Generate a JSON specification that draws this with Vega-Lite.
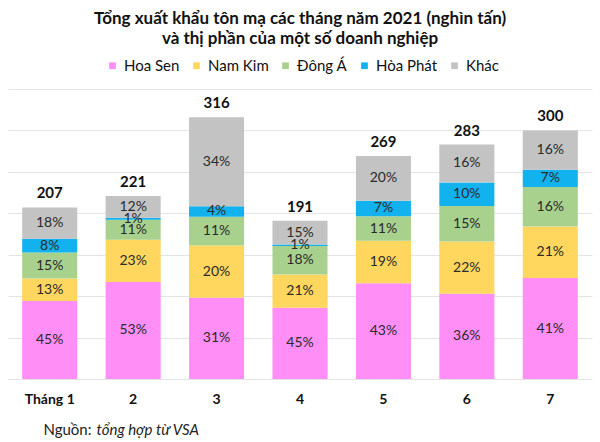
{
  "$schema": "https://vega.github.io/schema/vega-lite/v6.json",
  "autosize": "none",
  "width": 584,
  "height": 290,
  "padding": {"left": 8, "top": 89, "right": 8, "bottom": 63},
  "background": "white",
  "config": {
    "font": "Lato",
    "view": {"stroke": null}
  },
  "title": {
    "text": ["Tổng xuất khẩu tôn mạ các tháng năm 2021 (nghìn tấn)", "và thị phần của một số doanh nghiệp"],
    "fontSize": 17,
    "fontWeight": "bold",
    "color": "#111111",
    "anchor": "middle",
    "offset": 10,
    "lineHeight": 20
  },
  "data": {
    "values": [
      {"month": "Tháng 1", "series": "Hoa Sen", "ord": 1, "pct": 0.45, "value": 94.09, "total": 207},
      {"month": "Tháng 1", "series": "Nam Kim", "ord": 2, "pct": 0.13, "value": 27.18, "total": 207},
      {"month": "Tháng 1", "series": "Đông Á", "ord": 3, "pct": 0.15, "value": 31.36, "total": 207},
      {"month": "Tháng 1", "series": "Hòa Phát", "ord": 4, "pct": 0.08, "value": 16.73, "total": 207},
      {"month": "Tháng 1", "series": "Khác", "ord": 5, "pct": 0.18, "value": 37.64, "total": 207},
      {"month": "2", "series": "Hoa Sen", "ord": 1, "pct": 0.53, "value": 117.13, "total": 221},
      {"month": "2", "series": "Nam Kim", "ord": 2, "pct": 0.23, "value": 50.83, "total": 221},
      {"month": "2", "series": "Đông Á", "ord": 3, "pct": 0.11, "value": 24.31, "total": 221},
      {"month": "2", "series": "Hòa Phát", "ord": 4, "pct": 0.01, "value": 2.21, "total": 221},
      {"month": "2", "series": "Khác", "ord": 5, "pct": 0.12, "value": 26.52, "total": 221},
      {"month": "3", "series": "Hoa Sen", "ord": 1, "pct": 0.31, "value": 97.96, "total": 316},
      {"month": "3", "series": "Nam Kim", "ord": 2, "pct": 0.20, "value": 63.2, "total": 316},
      {"month": "3", "series": "Đông Á", "ord": 3, "pct": 0.11, "value": 34.76, "total": 316},
      {"month": "3", "series": "Hòa Phát", "ord": 4, "pct": 0.04, "value": 12.64, "total": 316},
      {"month": "3", "series": "Khác", "ord": 5, "pct": 0.34, "value": 107.44, "total": 316},
      {"month": "4", "series": "Hoa Sen", "ord": 1, "pct": 0.45, "value": 85.95, "total": 191},
      {"month": "4", "series": "Nam Kim", "ord": 2, "pct": 0.21, "value": 40.11, "total": 191},
      {"month": "4", "series": "Đông Á", "ord": 3, "pct": 0.18, "value": 34.38, "total": 191},
      {"month": "4", "series": "Hòa Phát", "ord": 4, "pct": 0.01, "value": 1.91, "total": 191},
      {"month": "4", "series": "Khác", "ord": 5, "pct": 0.15, "value": 28.65, "total": 191},
      {"month": "5", "series": "Hoa Sen", "ord": 1, "pct": 0.43, "value": 115.67, "total": 269},
      {"month": "5", "series": "Nam Kim", "ord": 2, "pct": 0.19, "value": 51.11, "total": 269},
      {"month": "5", "series": "Đông Á", "ord": 3, "pct": 0.11, "value": 29.59, "total": 269},
      {"month": "5", "series": "Hòa Phát", "ord": 4, "pct": 0.07, "value": 18.83, "total": 269},
      {"month": "5", "series": "Khác", "ord": 5, "pct": 0.20, "value": 53.8, "total": 269},
      {"month": "6", "series": "Hoa Sen", "ord": 1, "pct": 0.36, "value": 102.91, "total": 283},
      {"month": "6", "series": "Nam Kim", "ord": 2, "pct": 0.22, "value": 62.89, "total": 283},
      {"month": "6", "series": "Đông Á", "ord": 3, "pct": 0.15, "value": 42.88, "total": 283},
      {"month": "6", "series": "Hòa Phát", "ord": 4, "pct": 0.10, "value": 28.59, "total": 283},
      {"month": "6", "series": "Khác", "ord": 5, "pct": 0.16, "value": 45.73, "total": 283},
      {"month": "7", "series": "Hoa Sen", "ord": 1, "pct": 0.41, "value": 121.78, "total": 300},
      {"month": "7", "series": "Nam Kim", "ord": 2, "pct": 0.21, "value": 62.38, "total": 300},
      {"month": "7", "series": "Đông Á", "ord": 3, "pct": 0.16, "value": 47.52, "total": 300},
      {"month": "7", "series": "Hòa Phát", "ord": 4, "pct": 0.07, "value": 20.79, "total": 300},
      {"month": "7", "series": "Khác", "ord": 5, "pct": 0.16, "value": 47.53, "total": 300}
    ]
  },
  "encoding": {
    "x": {
      "field": "month",
      "type": "nominal",
      "sort": null,
      "scale": {"paddingInner": 0.34, "paddingOuter": 0.17},
      "axis": {
        "labelAngle": 0,
        "labelFont": "Lato",
        "labelFontSize": 14,
        "labelFontWeight": "bold",
        "labelColor": "#111111",
        "labelPadding": 13,
        "domain": false,
        "ticks": false,
        "title": "Nguồn:",
        "titleFont": "Lato",
        "titleFontSize": 15,
        "titleFontWeight": "normal",
        "titleColor": "#222222",
        "titleAnchor": "start",
        "titleAlign": "left",
        "titleX": 35,
        "titleY": 55,
        "titleBaseline": "alphabetic"
      }
    }
  },
  "layer": [
    {
      "mark": {"type": "bar"},
      "encoding": {
        "y": {
          "field": "value",
          "type": "quantitative",
          "stack": "zero",
          "scale": {"domain": [0, 350]},
          "axis": {
            "values": [0, 50, 100, 150, 200, 250, 300, 350],
            "labels": false,
            "ticks": false,
            "domain": false,
            "title": "tổng hợp từ VSA",
            "titleFont": "Lato",
            "titleFontSize": 15,
            "titleFontWeight": "normal",
            "titleFontStyle": "italic",
            "titleColor": "#222222",
            "titleAngle": 0,
            "titleAlign": "left",
            "titleBaseline": "alphabetic",
            "titleX": 88,
            "titleY": 345,
            "grid": true,
            "gridColor": "#e3e3e3",
            "gridWidth": 1
          }
        },
        "color": {
          "field": "series",
          "type": "nominal",
          "scale": {
            "domain": ["Hoa Sen", "Nam Kim", "Đông Á", "Hòa Phát", "Khác"],
            "range": ["#FF8FF7", "#FFD65E", "#A9D18E", "#11B2EE", "#C3C3C3"]
          },
          "legend": {
            "title": null,
            "orient": "none",
            "direction": "horizontal",
            "legendX": 97,
            "legendY": -31,
            "symbolType": "square",
            "symbolSize": 45,
            "symbolStrokeWidth": 0,
            "labelFont": "Lato",
            "labelFontSize": 15,
            "labelColor": "#111111",
            "columnPadding": 9,
            "labelOffset": 4
          }
        },
        "order": {"field": "ord", "type": "quantitative"}
      }
    },
    {
      "transform": [
        {"stack": "value", "groupby": ["month"], "sort": [{"field": "ord"}], "as": ["v0", "v1"]},
        {"fold": ["v0", "v1"], "as": ["k", "pos"]}
      ],
      "mark": {"type": "text", "font": "Lato", "fontSize": 14, "baseline": "middle", "color": "#2a2a2a"},
      "encoding": {
        "y": {"aggregate": "mean", "field": "pos", "type": "quantitative"},
        "text": {"field": "pct", "type": "quantitative", "format": ".0%"},
        "detail": {"field": "series"}
      }
    },
    {
      "transform": [{"filter": "datum.ord == 1"}],
      "mark": {"type": "text", "font": "Lato", "fontSize": 15, "fontWeight": "bold", "baseline": "middle", "dy": -14, "color": "#111111"},
      "encoding": {
        "y": {"field": "total", "type": "quantitative"},
        "text": {"field": "total", "type": "quantitative"}
      }
    }
  ]
}
